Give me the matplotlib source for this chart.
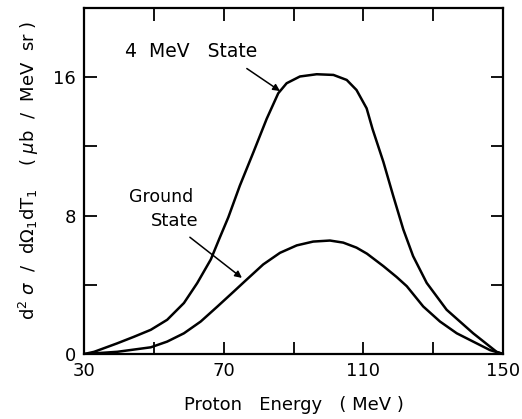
import matplotlib.pyplot as plt

# values
energy_4mev = [30, 32.9, 39.5, 44.3, 49.1, 53.8, 58.6, 62.4, 66.3, 68.8, 71.3,
               74.6, 78.5, 82.3, 85.6, 88, 91.8, 96.6, 101.4, 105.2, 108,
               110.9, 112.6, 115.7, 118.5, 121.4, 124.2, 128.1, 133.8, 141.4,
               148.1, 150]
sigma_4mev = [0, 0.13, 0.62, 1.0, 1.4, 1.98, 2.95, 4.1, 5.47, 6.7, 7.9,
              9.73, 11.67, 13.6, 15.07, 15.65, 16.04, 16.17, 16.13, 15.84, 15.26,
              14.2, 13.0, 11.1, 9.15, 7.2, 5.66, 4.11, 2.56, 1.2,
              0.13, 0]

energy_gs = [30, 39.5, 49.1, 53.8, 58.6, 63.4, 68.2, 72.9, 76, 81.3, 86.1,
             90.9, 95.6, 100.4, 104.2, 108, 111, 115.7, 119.5, 122.4, 127.1,
             131.9, 136.7, 141.4, 146.2, 150]
sigma_gs = [0, 0.13, 0.39, 0.72, 1.2, 1.88, 2.75, 3.62, 4.2, 5.18, 5.85,
            6.28, 6.5, 6.56, 6.44, 6.15, 5.8, 5.08, 4.45, 3.92, 2.75,
            1.88, 1.2, 0.72, 0.23, 0]

fig = plt.figure(figsize=(5.22, 4.19), dpi=100)
ax = fig.add_axes([0.161, 0.155, 0.803, 0.826])

ax.plot(energy_4mev, sigma_4mev, color='black', lw=1.8, solid_joinstyle='round')
ax.plot(energy_gs, sigma_gs, color='black', lw=1.8, solid_joinstyle='round')

ax.set_xlim(30, 150)
ax.set_ylim(0, 20)
ax.set_xticks([30, 50, 70, 90, 110, 130, 150])
ax.set_xticklabels(['30', '', '70', '', '110', '', '150'])
ax.set_yticks([0, 4, 8, 12, 16])
ax.set_yticklabels(['0', '', '8', '', '16'])
ax.tick_params(direction='in', length=9, width=1.3, top=True, right=True,
               labelsize=13, pad=6)
for s in ax.spines.values():
    s.set_linewidth(1.6)

ax.set_xlabel('Proton   Energy   ( MeV )', fontsize=13, labelpad=11)
ax.set_ylabel(r'd$^2$ $\sigma$  /  d$\Omega_1$dT$_1$    ( $\mu$b  /  MeV  sr )',
              fontsize=13, labelpad=12)
ax.yaxis.set_label_coords(-0.102, 0.53)

arrow = dict(arrowstyle='-|>', color='black', lw=1.1, shrinkA=0, shrinkB=0,
             mutation_scale=10)
ax.text(41.7, 17.5, '4  MeV   State', fontsize=13.5, ha='left', va='center')
ax.annotate('', xy=(86.1, 15.2), xytext=(76.6, 16.5), arrowprops=arrow)
ax.text(52, 9.1, 'Ground', fontsize=12.5, ha='center', va='center')
ax.text(56, 7.7, 'State', fontsize=13, ha='center', va='center')
ax.annotate('', xy=(75.2, 4.4), xytext=(60.3, 6.75), arrowprops=arrow)

fig.savefig('out.png', dpi=100)
